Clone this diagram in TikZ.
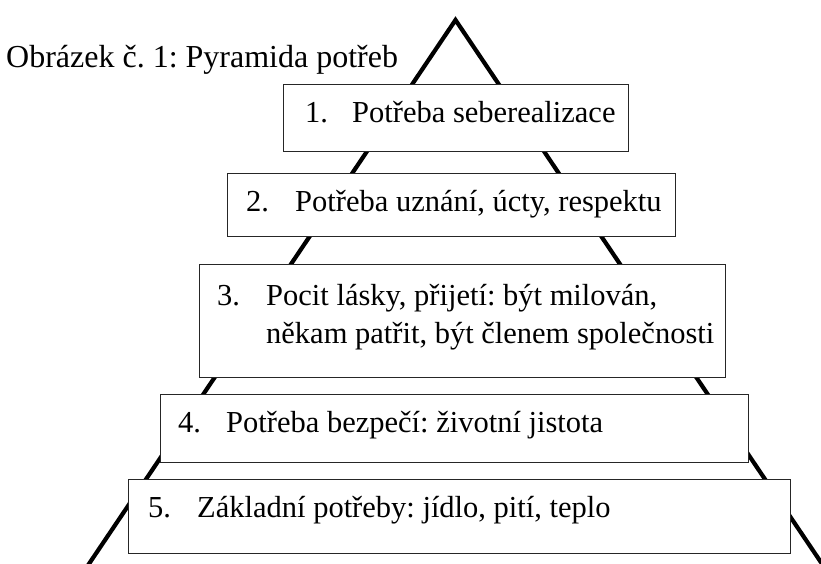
\documentclass[tikz,border=0pt]{standalone}
\usepackage{fontspec}
\setmainfont{Liberation Serif}
\frenchspacing
\begin{document}
\begin{tikzpicture}[x=1pt,y=-1pt,
  levelbox/.style={draw=black!85, line width=1.2pt, fill=white, anchor=north west, inner sep=0pt},
  lbl/.style={anchor=base west, inner sep=0pt, font=\fontsize{30.5pt}{36pt}\selectfont}]
\useasboundingbox (0,0) rectangle (821,563);
\begin{scope}
  \clip (0,0) rectangle (821,563);
  \coordinate (apex) at (455.5,20);
  \coordinate (bl) at (78.1,580);
  \coordinate (br) at (832.9,580);
  \draw[line width=4.2pt, miter limit=10] (bl) -- (apex) -- (br);
\end{scope}
% title
\node[lbl, font=\fontsize{32pt}{37pt}\selectfont] (title) at (6,67) {Obrázek č. 1: Pyramida potřeb};
% boxes
\node[levelbox, minimum width=345pt, minimum height=67pt] (b1) at (283,84) {};
\node[levelbox, minimum width=448pt, minimum height=63pt] (b2) at (227,173) {};
\node[levelbox, minimum width=526pt, minimum height=113pt] (b3) at (199,264) {};
\node[levelbox, minimum width=588pt, minimum height=68pt] (b4) at (160,394) {};
\node[levelbox, minimum width=662pt, minimum height=74pt] (b5) at (128,479) {};
% texts
\node[lbl] (n1) at (305,122) {1.};
\node[lbl] (t1) at (352,122) {Potřeba seberealizace};
\node[lbl] (n2) at (246,211) {2.};
\node[lbl] (t2) at (295,211) {Potřeba uznání, úcty, respektu};
\node[lbl] (n3) at (217,305) {3.};
\node[lbl] (t3a) at (266,305) {Pocit lásky, přijetí: být milován,};
\node[lbl] (t3b) at (266,343) {někam patřit, být členem společnosti};
\node[lbl] (n4) at (178,432) {4.};
\node[lbl] (t4) at (226,432) {Potřeba bezpečí: životní jistota};
\node[lbl] (n5) at (148,517) {5.};
\node[lbl] (t5) at (197,517) {Základní potřeby: jídlo, pití, teplo};
\end{tikzpicture}
\end{document}
